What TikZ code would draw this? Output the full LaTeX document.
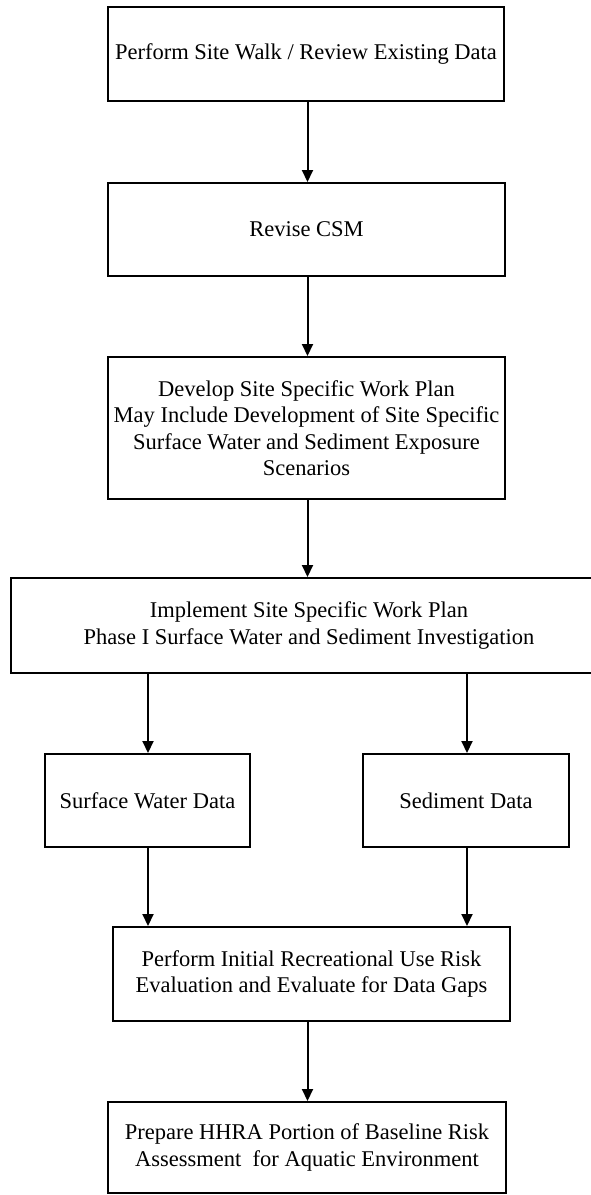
\documentclass[tikz,border=0pt]{standalone}
\usepackage{fontspec}
\setmainfont{Liberation Serif}
\usetikzlibrary{arrows.meta}
\begin{document}
\begin{tikzpicture}[x=1pt,y=-1pt,
  box/.style={draw=black, line width=2pt, fill=white, align=center, inner sep=0pt,
    font=\fontsize{22.5}{26.5}\selectfont},
  arr/.style={draw=black, line width=2pt, -{Triangle[length=12pt,width=11pt]}}]
\useasboundingbox (0,0) rectangle (590,1195);
\fill[white] (0,0) rectangle (590,1195);
\node[box, minimum width=396pt, minimum height=94pt] (b1) at (306,54)
  {Perform Site Walk / Review Existing Data};
\node[box, minimum width=397pt, minimum height=93pt] (b2) at (306.5,229.5)
  {Revise CSM};
\node[box, minimum width=397pt, minimum height=142pt] (b3) at (306.5,428)
  {Develop Site Specific Work Plan\\May Include Development of Site Specific\\Surface Water and Sediment Exposure\\Scenarios};
\node[box, minimum width=596pt, minimum height=95pt] (b4) at (309,625.5)
  {Implement Site Specific Work Plan\\Phase I Surface Water and Sediment Investigation};
\node[box, minimum width=205pt, minimum height=93pt] (b5) at (147.5,800.5)
  {Surface Water Data};
\node[box, minimum width=206pt, minimum height=93pt] (b6) at (466,800.5)
  {Sediment Data};
\node[box, minimum width=397pt, minimum height=94pt] (b7) at (311.5,974)
  {Perform Initial Recreational Use Risk\\Evaluation and Evaluate for Data Gaps};
\node[box, minimum width=398pt, minimum height=91pt] (b8) at (307,1147.5)
  {Prepare HHRA Portion of Baseline Risk\\Assessment\ \ for Aquatic Environment};
\coordinate (c1) at (307.5,0);
\coordinate (c2) at (148,0);
\coordinate (c3) at (467,0);
\draw[arr] (c1 |- b1.south) -- (c1 |- b2.north);
\draw[arr] (c1 |- b2.south) -- (c1 |- b3.north);
\draw[arr] (c1 |- b3.south) -- (c1 |- b4.north);
\draw[arr] (c2 |- b4.south) -- (c2 |- b5.north);
\draw[arr] (c3 |- b4.south) -- (c3 |- b6.north);
\draw[arr] (c2 |- b5.south) -- (c2 |- b7.north);
\draw[arr] (c3 |- b6.south) -- (c3 |- b7.north);
\draw[arr] (c1 |- b7.south) -- (c1 |- b8.north);
\end{tikzpicture}
\end{document}
